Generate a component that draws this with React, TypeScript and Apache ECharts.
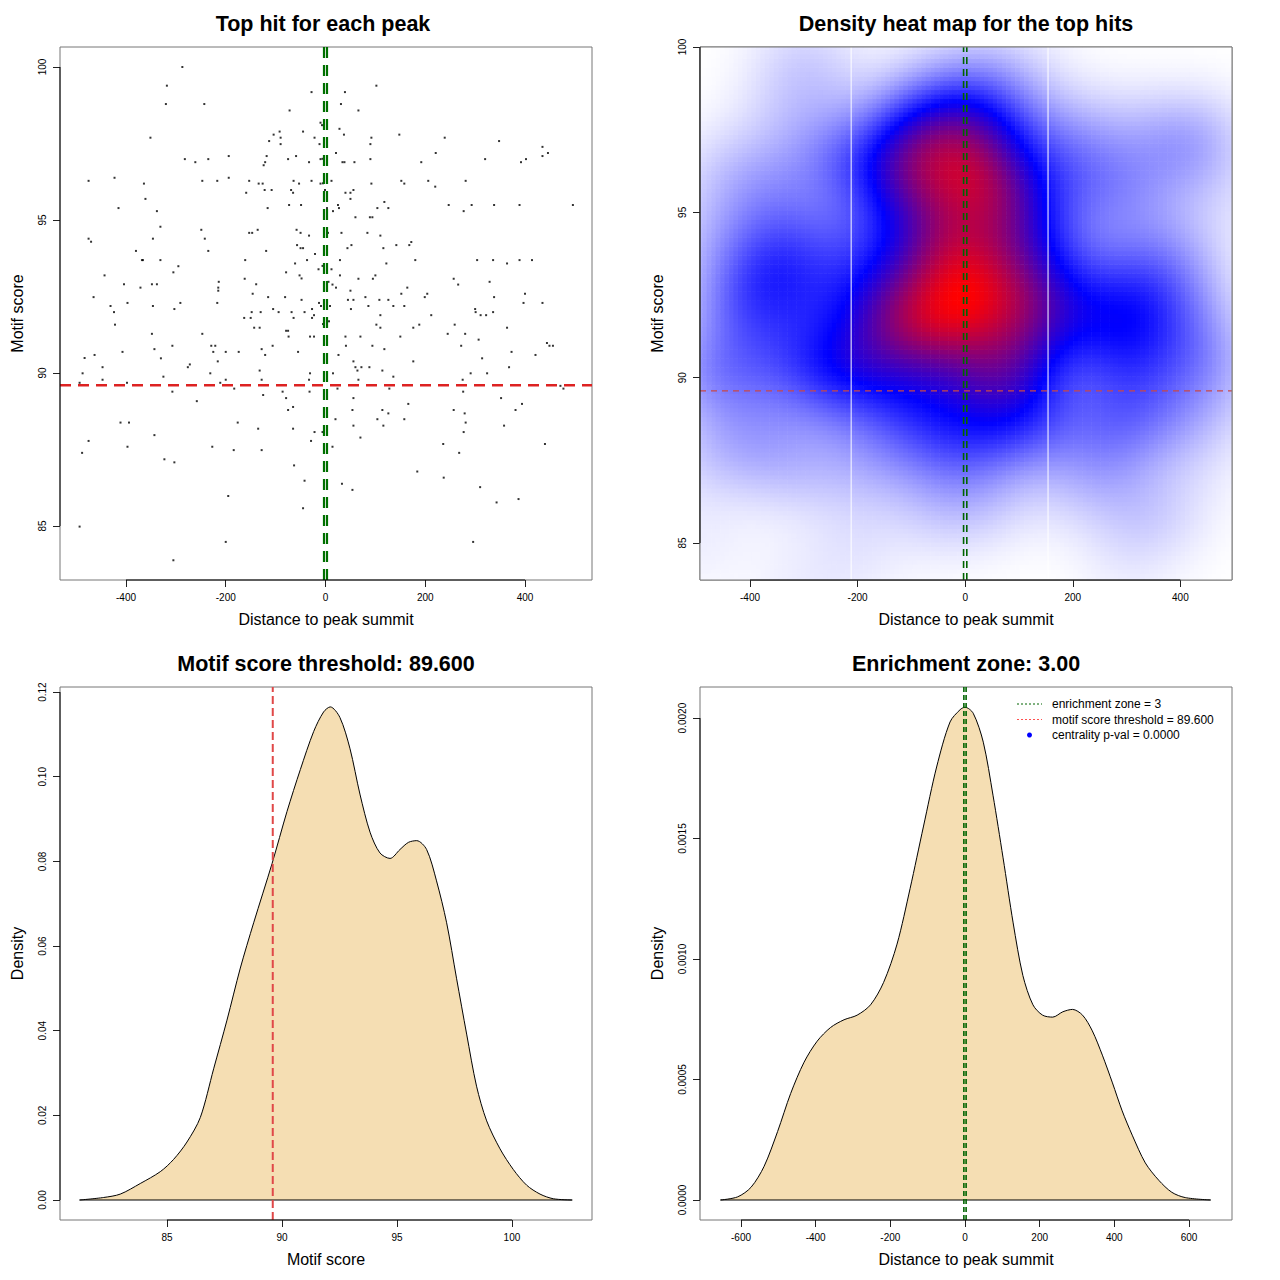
import React, { useEffect, useRef } from "react";
import * as echarts from "echarts";

// ---- Data: top hit per peak [distance to summit, motif score] ----
const topHits: [number, number][] = [
  [-287, 100.0], [-318, 99.39], [-320, 98.79], [-243, 98.79], [-28, 99.18], [-72, 98.58], [-10, 98.18], [-351, 97.69],
  [-104, 97.79], [-92, 97.89], [-113, 97.58], [-90, 97.69], [-90, 97.48], [-45, 97.89], [-22, 97.69], [-12, 97.48],
  [-282, 96.99], [-261, 96.89], [-235, 96.99], [-194, 97.09], [-118, 97.09], [-121, 96.89], [-124, 96.79], [-75, 96.99],
  [-59, 97.09], [-33, 96.89], [-10, 96.99], [-475, 96.28], [-423, 96.38], [-364, 96.19], [-247, 96.28], [-217, 96.28],
  [-194, 96.38], [-153, 96.28], [-134, 96.19], [-126, 96.19], [-122, 95.98], [-108, 95.98], [-159, 95.89], [-64, 96.28],
  [-53, 96.19], [-28, 96.28], [-69, 95.98], [-65, 95.89], [-10, 96.19], [-361, 95.69], [-415, 95.39], [-338, 95.29],
  [-116, 95.39], [-73, 95.49], [-49, 95.49], [-331, 94.78], [-249, 94.68], [-475, 94.39], [-470, 94.29], [-346, 94.39],
  [-242, 94.39], [-153, 94.58], [-147, 94.58], [-136, 94.68], [-58, 94.68], [-50, 94.58], [-33, 94.49], [-380, 93.99],
  [-235, 93.99], [-119, 93.99], [-57, 94.18], [-50, 94.08], [-45, 94.08], [-21, 93.89], [-368, 93.69], [-366, 93.69],
  [-331, 93.69], [-161, 93.69], [-37, 93.69], [-61, 93.58], [-14, 93.39], [-295, 93.49], [-443, 93.19], [-305, 93.29],
  [-79, 93.29], [-52, 93.19], [-48, 93.09], [-404, 92.9], [-348, 92.9], [-338, 92.9], [-371, 92.79], [-214, 92.98],
  [-215, 92.79], [-215, 92.69], [-162, 93.08], [-139, 92.9], [-146, 92.59], [-465, 92.48], [-431, 92.19], [-397, 92.29],
  [-346, 92.19], [-291, 92.29], [-303, 92.09], [-217, 92.29], [-115, 92.48], [-81, 92.48], [-48, 92.39], [-424, 91.99],
  [-148, 91.99], [-130, 91.99], [-105, 92.09], [-94, 91.99], [-68, 91.99], [-42, 91.99], [-27, 92.09], [-13, 92.29],
  [-9, 92.19],
  [102, 99.39], [39, 99.18], [31, 98.79], [66, 98.58], [28, 97.98], [37, 97.79], [92, 97.69], [90, 97.48],
  [148, 97.79], [239, 97.69], [348, 97.58], [435, 97.39], [446, 97.19], [435, 97.09], [21, 97.19], [221, 97.19],
  [34, 96.89], [38, 96.89], [58, 96.89], [90, 96.99], [192, 96.89], [320, 96.99], [402, 96.99], [392, 96.89],
  [12, 96.28], [92, 96.19], [152, 96.28], [158, 96.19], [206, 96.28], [281, 96.28], [220, 96.09], [-1, 95.98],
  [40, 95.89], [50, 95.89], [56, 95.98], [50, 95.69], [118, 95.59], [25, 95.49], [27, 95.39], [15, 95.29],
  [3, 95.39], [104, 95.39], [126, 95.39], [247, 95.49], [293, 95.49], [338, 95.49], [389, 95.49], [496, 95.49],
  [277, 95.29], [60, 95.09], [89, 95.09], [94, 95.09], [5, 94.58], [32, 94.58], [84, 94.58], [110, 94.49],
  [52, 94.18], [44, 94.08], [116, 94.08], [142, 94.18], [172, 94.28], [168, 94.18], [29, 93.69], [180, 93.69],
  [304, 93.69], [336, 93.69], [389, 93.69], [414, 93.69], [122, 93.58], [364, 93.58], [12, 93.39], [29, 93.19],
  [66, 93.08], [95, 93.08], [100, 93.19], [257, 93.08], [266, 92.89], [329, 92.98], [6, 92.98], [14, 92.89],
  [21, 92.79], [50, 92.69], [164, 92.79], [152, 92.59], [204, 92.59], [199, 92.48], [80, 92.48], [400, 92.59],
  [338, 92.48], [45, 92.39], [56, 92.39], [108, 92.39], [126, 92.39], [397, 92.29], [435, 92.29], [9, 92.19],
  [51, 92.09], [86, 92.19], [136, 92.19], [158, 92.19], [300, 92.09], [301, 91.99], [336, 91.99],
  [-422, 91.58], [-348, 91.28], [-247, 91.28], [-307, 90.89], [-229, 90.89], [-221, 90.89], [-407, 90.69], [-343, 90.78],
  [-225, 90.69], [-200, 90.69], [-174, 90.69], [-463, 90.59], [-483, 90.49], [-330, 90.48], [-216, 90.38], [-447, 90.19],
  [-272, 90.28], [-276, 90.19], [-487, 89.99], [-447, 89.78], [-493, 89.68], [-398, 89.68], [-325, 89.88], [-231, 89.99],
  [-211, 89.68], [-200, 89.78], [-183, 89.49], [-307, 89.39], [-258, 89.08], [-163, 91.8], [-150, 91.8], [-143, 91.48],
  [-132, 91.48], [-106, 90.89], [-128, 90.78], [-121, 90.59], [-79, 91.38], [-75, 91.38], [-74, 91.19], [-31, 91.19],
  [-23, 91.19], [-64, 91.8], [-27, 91.8], [-23, 91.89], [-55, 90.69], [-132, 90.08], [-128, 89.78], [-31, 89.99],
  [-33, 89.78], [-125, 89.28], [-86, 89.39], [-79, 89.18], [-65, 88.89], [-75, 88.79], [-32, 89.39], [-411, 88.38],
  [-394, 88.38], [-176, 88.38], [-135, 88.18], [-65, 88.18], [-22, 88.07], [-343, 87.97], [-475, 87.78], [-29, 87.78],
  [-488, 87.39], [-397, 87.59], [-227, 87.59], [-184, 87.48], [-128, 87.48], [-323, 87.18], [-303, 87.08], [-63, 86.98],
  [-42, 86.48], [-195, 85.98], [-45, 85.58], [-493, 84.98], [-200, 84.48], [-305, 83.88], [-6, 88.07],
  [110, 91.89], [212, 91.89], [311, 91.89], [322, 91.89], [7, 91.69], [102, 91.58], [110, 91.48], [176, 91.48],
  [188, 91.58], [259, 91.58], [364, 91.48], [40, 91.19], [70, 91.19], [150, 91.19], [245, 91.28], [280, 91.28],
  [307, 91.09], [41, 90.89], [94, 90.89], [118, 90.78], [272, 90.89], [444, 90.98], [449, 90.89], [456, 90.89],
  [26, 90.59], [373, 90.69], [421, 90.59], [56, 90.38], [176, 90.38], [314, 90.48], [60, 90.19], [72, 90.19],
  [88, 90.19], [64, 90.08], [114, 90.08], [368, 90.19], [15, 89.99], [291, 89.99], [324, 89.99], [136, 89.88],
  [66, 89.78], [275, 89.78], [24, 89.49], [128, 89.49], [471, 89.58], [477, 89.49], [276, 89.39], [56, 89.18],
  [352, 89.18], [166, 88.99], [394, 88.99], [54, 88.79], [114, 88.79], [126, 88.68], [257, 88.79], [279, 88.68],
  [381, 88.79], [20, 88.49], [104, 88.49], [158, 88.49], [281, 88.38], [56, 88.28], [116, 88.28], [358, 88.28],
  [277, 88.07], [70, 87.89], [14, 87.59], [236, 87.68], [440, 87.68], [268, 87.39], [184, 86.78], [237, 86.58],
  [33, 86.38], [54, 86.18], [310, 86.27], [387, 85.88], [343, 85.77], [296, 84.48],
  [-7, 98.1], [-6, 97.0], [-5, 96.2], [-6, 93.5], [-5, 91.6],
];

// ---- Density of motif scores [score, density] ----
const scoreDensity: [number, number][] = [
  [81.2, 0], [82.25, 0.0006], [82.97, 0.0014], [83.84, 0.0039], [84.71, 0.0067], [85.29, 0.0096], [85.87, 0.0137],
  [86.45, 0.0195], [87.03, 0.031], [87.61, 0.0425], [88.19, 0.0548], [88.77, 0.0655], [89.57, 0.0795], [90.22, 0.0918],
  [90.8, 0.1017], [91.38, 0.1107], [91.81, 0.1153], [92.1, 0.1165], [92.52, 0.114], [92.96, 0.1066], [93.39, 0.0959],
  [93.83, 0.0869], [94.26, 0.082], [94.7, 0.0807], [95.13, 0.0828], [95.5, 0.0845], [95.86, 0.0849], [96.29, 0.0828],
  [96.72, 0.0754], [97.16, 0.0655], [97.59, 0.0524], [98.03, 0.0392], [98.46, 0.0269], [98.9, 0.0187], [99.48, 0.0121],
  [100.06, 0.0072], [100.64, 0.0035], [101.22, 0.0014], [101.8, 0.0003], [102.62, 0],
];

// ---- Density of distances to summit [distance, density] ----
const distanceDensity: [number, number][] = [
  [-655, 0], [-609, 0.000013], [-573, 0.000053], [-538, 0.00014], [-502, 0.000284], [-467, 0.000442], [-431, 0.000572],
  [-396, 0.000659], [-360, 0.000716], [-324, 0.000748], [-289, 0.000767], [-253, 0.00081], [-218, 0.000903],
  [-182, 0.001062], [-147, 0.001293], [-111, 0.001552], [-76, 0.001797], [-40, 0.001984], [-13, 0.002035], [0, 0.002045],
  [22, 0.00202], [49, 0.0019], [75, 0.00168], [102, 0.00142], [129, 0.00115], [155, 0.000932], [182, 0.00081],
  [208, 0.000767], [235, 0.000759], [262, 0.000781], [288, 0.000791], [315, 0.000767], [341, 0.000702], [368, 0.000601],
  [395, 0.000486], [421, 0.00037], [448, 0.000269], [483, 0.000154], [519, 0.000082], [554, 0.000032], [590, 0.00001],
  [658, 0],
];

// ---- Tick values / reference values ----
const distanceTicks = [-400, -200, 0, 200, 400];
const distanceTicksWide = [-600, -400, -200, 0, 200, 400, 600];
const scoreTicks = [85, 90, 95, 100];
const scoreDensityTicks = [0, 0.02, 0.04, 0.06, 0.08, 0.1, 0.12];
const distanceDensityTicks = [0, 0.0005, 0.001, 0.0015, 0.002];
const motifThreshold = 89.6;
const enrichmentZone = 3;
const heatmapSeams = [-212, 154];
const legendLabels = ["enrichment zone = 3", "motif score threshold = 89.600", "centrality p-val = 0.0000"];

// ---- 2-D kernel density of the top hits (as MASS::kde2d) ----
function bandwidthNrd(v: number[]) {
  const n = v.length;
  const s = [...v].sort((a, b) => a - b);
  const q = (p: number) => {
    const h = (n - 1) * p;
    const lo = Math.floor(h);
    return s[lo] + (h - lo) * (s[Math.min(lo + 1, n - 1)] - s[lo]);
  };
  const mean = v.reduce((a, b) => a + b, 0) / n;
  const sd = Math.sqrt(v.reduce((a, b) => a + (b - mean) ** 2, 0) / (n - 1));
  return 4 * 1.06 * Math.min(sd, (q(0.75) - q(0.25)) / 1.34) * Math.pow(n, -0.2);
}

function kde2d(pts: [number, number][], nGrid: number) {
  const xs = pts.map((p) => p[0]);
  const ys = pts.map((p) => p[1]);
  const xlo = Math.min(...xs), xhi = Math.max(...xs);
  const ylo = Math.min(...ys), yhi = Math.max(...ys);
  const hx = bandwidthNrd(xs) / 4, hy = bandwidthNrd(ys) / 4;
  const gx = Array.from({ length: nGrid }, (_, i) => xlo + ((xhi - xlo) * i) / (nGrid - 1));
  const gy = Array.from({ length: nGrid }, (_, i) => ylo + ((yhi - ylo) * i) / (nGrid - 1));
  const dn = (u: number) => Math.exp(-0.5 * u * u);
  const ax = gx.map((g) => xs.map((x) => dn((g - x) / hx)));
  const ay = gy.map((g) => ys.map((y) => dn((g - y) / hy)));
  const cells: number[][] = [];
  let zmin = Infinity, zmax = -Infinity;
  for (let i = 0; i < nGrid; i++) {
    for (let j = 0; j < nGrid; j++) {
      let z = 0;
      const a = ax[i], b = ay[j];
      for (let k = 0; k < xs.length; k++) z += a[k] * b[k];
      cells.push([gx[i], gy[j], z]);
      if (z < zmin) zmin = z;
      if (z > zmax) zmax = z;
    }
  }
  for (const c of cells) c[2] = (c[2] - zmin) / (zmax - zmin);
  return { cells, dx: (xhi - xlo) / (nGrid - 1), dy: (yhi - ylo) / (nGrid - 1), xlo, xhi, ylo, yhi };
}

function rampColor(t: number) {
  // white -> blue -> red
  let r: number, g: number, b: number;
  if (t < 0.5) {
    const u = t / 0.5;
    r = 255 * (1 - u); g = 255 * (1 - u); b = 255;
  } else {
    const u = (t - 0.5) / 0.5;
    r = 255 * u; g = 0; b = 255 * (1 - u);
  }
  return `rgb(${Math.round(r)},${Math.round(g)},${Math.round(b)})`;
}

const FONT = "Liberation Sans, Arial, Helvetica, sans-serif";
const GW = 532, GH = 533;
const COLS = [60, 700];
const ROWS = [47, 687];

export default function App() {
  const ref = useRef<HTMLDivElement>(null);

  useEffect(() => {
    if (!ref.current) return;
    const chart = echarts.init(ref.current, undefined, { renderer: "svg" });
    const heat = kde2d(topHits, 120);

    const xAxisBase = (gridIndex: number, min: number, max: number, ticks: number[], name: string, fmt?: (v: number) => string) => ({
      type: "value", gridIndex, min, max, name, nameLocation: "middle", nameGap: 31,
      nameTextStyle: { fontSize: 16, color: "#000", fontFamily: FONT },
      axisLine: { show: false, onZero: false }, splitLine: { show: false },
      axisTick: { show: true, length: 7, lineStyle: { color: "#222" }, customValues: ticks },
      axisLabel: { show: true, fontSize: 10, color: "#000", margin: 12, fontFamily: FONT, customValues: ticks, formatter: fmt },
    });
    const yAxisBase = (gridIndex: number, min: number, max: number, ticks: number[], name: string, fmt?: (v: number) => string) => ({
      type: "value", gridIndex, min, max, name, nameLocation: "middle", nameGap: 35, nameRotate: 90,
      nameTextStyle: { fontSize: 16, color: "#000", fontFamily: FONT },
      axisLine: { show: false, onZero: false }, splitLine: { show: false },
      axisTick: { show: true, length: 7, lineStyle: { color: "#222" }, customValues: ticks },
      axisLabel: { show: true, fontSize: 10, color: "#000", margin: 13, rotate: 90, fontFamily: FONT, customValues: ticks, formatter: fmt },
    });

    const vline = (xi: number, x: number, y0: number, y1: number, color: string, width: number, dash: any, z = 5, clip = true) => ({
      type: "line", xAxisIndex: xi, yAxisIndex: xi, data: [[x, y0], [x, y1]], symbol: "none", silent: true, z,
      lineStyle: { color, width, type: dash }, clip,
    });
    const hline = (xi: number, y: number, x0: number, x1: number, color: string, width: number, dash: any, z = 5, clip = true) => ({
      type: "line", xAxisIndex: xi, yAxisIndex: xi, data: [[x0, y], [x1, y]], symbol: "none", silent: true, z,
      lineStyle: { color, width, type: dash }, clip,
    });

    const tl = { xmin: -532.3, xmax: 534.3, ymin: 83.235, ymax: 100.654 };
    const bl = { xmin: 80.35, xmax: 103.48, ymin: -0.00472, ymax: 0.1212 };
    const br = { xmin: -709.8, xmax: 715.2, ymin: -0.000083, ymax: 0.002129 };
    const tr = { xmin: heat.xlo, xmax: heat.xhi, ymin: heat.ylo, ymax: heat.yhi };

    // axis line segments running from the first to the last tick (as base R axes)
    const axisSegments = (i: number, ext: { xmin: number; ymin: number }, xt: number[], yt: number[]) => [
      hline(i, ext.ymin, xt[0], xt[xt.length - 1], "#000", 1, "solid", 70, false),
      vline(i, ext.xmin, yt[0], yt[yt.length - 1], "#000", 1, "solid", 70, false),
    ];

    const grids = [
      { left: COLS[0], top: ROWS[0] },
      { left: COLS[1], top: ROWS[0] },
      { left: COLS[0], top: ROWS[1] },
      { left: COLS[1], top: ROWS[1] },
    ].map((g) => ({ ...g, width: GW, height: GH, show: true, borderColor: "#777", borderWidth: 1, backgroundColor: "transparent" }));

    const titles = [
      ["Top hit for each peak", COLS[0] + GW / 2 - 3, 24],
      ["Density heat map for the top hits", COLS[1] + GW / 2, 24],
      ["Motif score threshold: 89.600", COLS[0] + GW / 2, 664],
      ["Enrichment zone: 3.00", COLS[1] + GW / 2, 664],
    ].map(([text, x, y]) => ({
      type: "text", x, y, silent: true,
      style: { text, fontSize: 21.5, fontWeight: "bold", fontFamily: FONT, fill: "#000", align: "center", verticalAlign: "middle" },
    }));

    const lgX = COLS[1] + 317, lgY = ROWS[1] + 17, lgStep = 15.5;
    const legend: any[] = [
      { type: "line", shape: { x1: lgX, y1: lgY, x2: lgX + 25, y2: lgY }, style: { stroke: "#006400", lineWidth: 1, lineDash: [2, 2] }, z: 50 },
      { type: "line", shape: { x1: lgX, y1: lgY + lgStep, x2: lgX + 25, y2: lgY + lgStep }, style: { stroke: "#ff5050", lineWidth: 1, lineDash: [2, 2] }, z: 50 },
      { type: "circle", shape: { cx: lgX + 12.5, cy: lgY + 2 * lgStep, r: 2.5 }, style: { fill: "#0000ff" }, z: 50 },
      ...legendLabels.map((t, i) => ({
        type: "text", x: lgX + 35, y: lgY + i * lgStep, z: 50,
        style: { text: t, fontSize: 12, fontFamily: FONT, fill: "#000", align: "left", verticalAlign: "middle" },
      })),
    ];

    const heatBox = {
      type: "rect", shape: { x: COLS[1], y: ROWS[0], width: GW, height: GH }, z: 60, silent: true,
      style: { fill: "none", stroke: "#777", lineWidth: 1 },
    };

    const option: any = {
      animation: false,
      backgroundColor: "#fff",
      textStyle: { fontFamily: FONT },
      grid: grids,
      xAxis: [
        xAxisBase(0, tl.xmin, tl.xmax, distanceTicks, "Distance to peak summit"),
        xAxisBase(1, tr.xmin, tr.xmax, distanceTicks, "Distance to peak summit"),
        xAxisBase(2, bl.xmin, bl.xmax, scoreTicks, "Motif score"),
        xAxisBase(3, br.xmin, br.xmax, distanceTicksWide, "Distance to peak summit"),
      ],
      yAxis: [
        yAxisBase(0, tl.ymin, tl.ymax, scoreTicks, "Motif score"),
        yAxisBase(1, tr.ymin, tr.ymax, scoreTicks, "Motif score"),
        yAxisBase(2, bl.ymin, bl.ymax, scoreDensityTicks, "Density", (v: number) => v.toFixed(2)),
        yAxisBase(3, br.ymin, br.ymax, distanceDensityTicks, "Density", (v: number) => v.toFixed(4)),
      ],
      graphic: [...titles, ...legend, heatBox],
      series: [
        // Top-left scatter
        {
          type: "scatter", xAxisIndex: 0, yAxisIndex: 0, data: topHits, symbol: "rect", symbolSize: 2,
          itemStyle: { color: "#000" }, silent: true, z: 3,
        },
        hline(0, motifThreshold, tl.xmin, tl.xmax, "#dd2222", 2.5, [11, 7]),
        vline(0, -enrichmentZone, tl.ymin, tl.ymax, "#007000", 2.2, [11, 7]),
        vline(0, enrichmentZone, tl.ymin, tl.ymax, "#007000", 2.2, [11, 7]),
        ...axisSegments(0, tl, distanceTicks, scoreTicks),
        // Top-right heat map
        {
          type: "custom", xAxisIndex: 1, yAxisIndex: 1, data: heat.cells, silent: true, z: 1, progressive: 0,
          renderItem: (params: any, api: any) => {
            const x = api.value(0), y = api.value(1), t = api.value(2);
            const p0 = api.coord([x - heat.dx / 2, y + heat.dy / 2]);
            const p1 = api.coord([x + heat.dx / 2, y - heat.dy / 2]);
            const cs = params.coordSys;
            const x0 = Math.max(p0[0], cs.x), x1 = Math.min(p1[0] + 0.6, cs.x + cs.width);
            const y0 = Math.max(p0[1], cs.y), y1 = Math.min(p1[1] + 0.6, cs.y + cs.height);
            if (x1 <= x0 || y1 <= y0) return null;
            return { type: "rect", shape: { x: x0, y: y0, width: x1 - x0, height: y1 - y0 }, style: { fill: rampColor(t) } };
          },
        },
        ...heatmapSeams.map((s) => vline(1, s, tr.ymin, tr.ymax, "#ffffff", 1, "solid", 4)),
        hline(1, motifThreshold, tr.xmin, tr.xmax, "#c84848", 1.2, [6, 5]),
        vline(1, -enrichmentZone, tr.ymin, tr.ymax, "#006400", 1.6, [7, 5]),
        vline(1, enrichmentZone, tr.ymin, tr.ymax, "#006400", 1.6, [7, 5]),
        ...axisSegments(1, tr, distanceTicks, scoreTicks),
        // Bottom-left density
        {
          type: "line", xAxisIndex: 2, yAxisIndex: 2, data: scoreDensity, symbol: "none", smooth: 0.3, silent: true, z: 2,
          lineStyle: { color: "#000", width: 1 }, areaStyle: { color: "#F5DEB3", opacity: 1, origin: "auto" },
        },
        hline(2, 0, scoreDensity[0][0], scoreDensity[scoreDensity.length - 1][0], "#000", 1.2, "solid", 3),
        vline(2, motifThreshold, bl.ymin, bl.ymax, "#e04848", 2, [8, 4]),
        ...axisSegments(2, bl, scoreTicks, scoreDensityTicks),
        // Bottom-right density
        {
          type: "line", xAxisIndex: 3, yAxisIndex: 3, data: distanceDensity, symbol: "none", smooth: 0.3, silent: true, z: 2,
          lineStyle: { color: "#000", width: 1 }, areaStyle: { color: "#F5DEB3", opacity: 1, origin: "auto" },
        },
        hline(3, 0, distanceDensity[0][0], distanceDensity[distanceDensity.length - 1][0], "#000", 1.2, "solid", 3),
        vline(3, -enrichmentZone, br.ymin, br.ymax, "#006400", 1.6, [5, 3]),
        vline(3, enrichmentZone, br.ymin, br.ymax, "#006400", 1.6, [5, 3]),
        ...axisSegments(3, br, distanceTicksWide, distanceDensityTicks),
      ],
    };

    chart.setOption(option);
    return () => chart.dispose();
  }, []);

  return <div ref={ref} style={{ position: "absolute", left: 0, top: 0, width: 1280, height: 1280, background: "#fff" }} />;
}
